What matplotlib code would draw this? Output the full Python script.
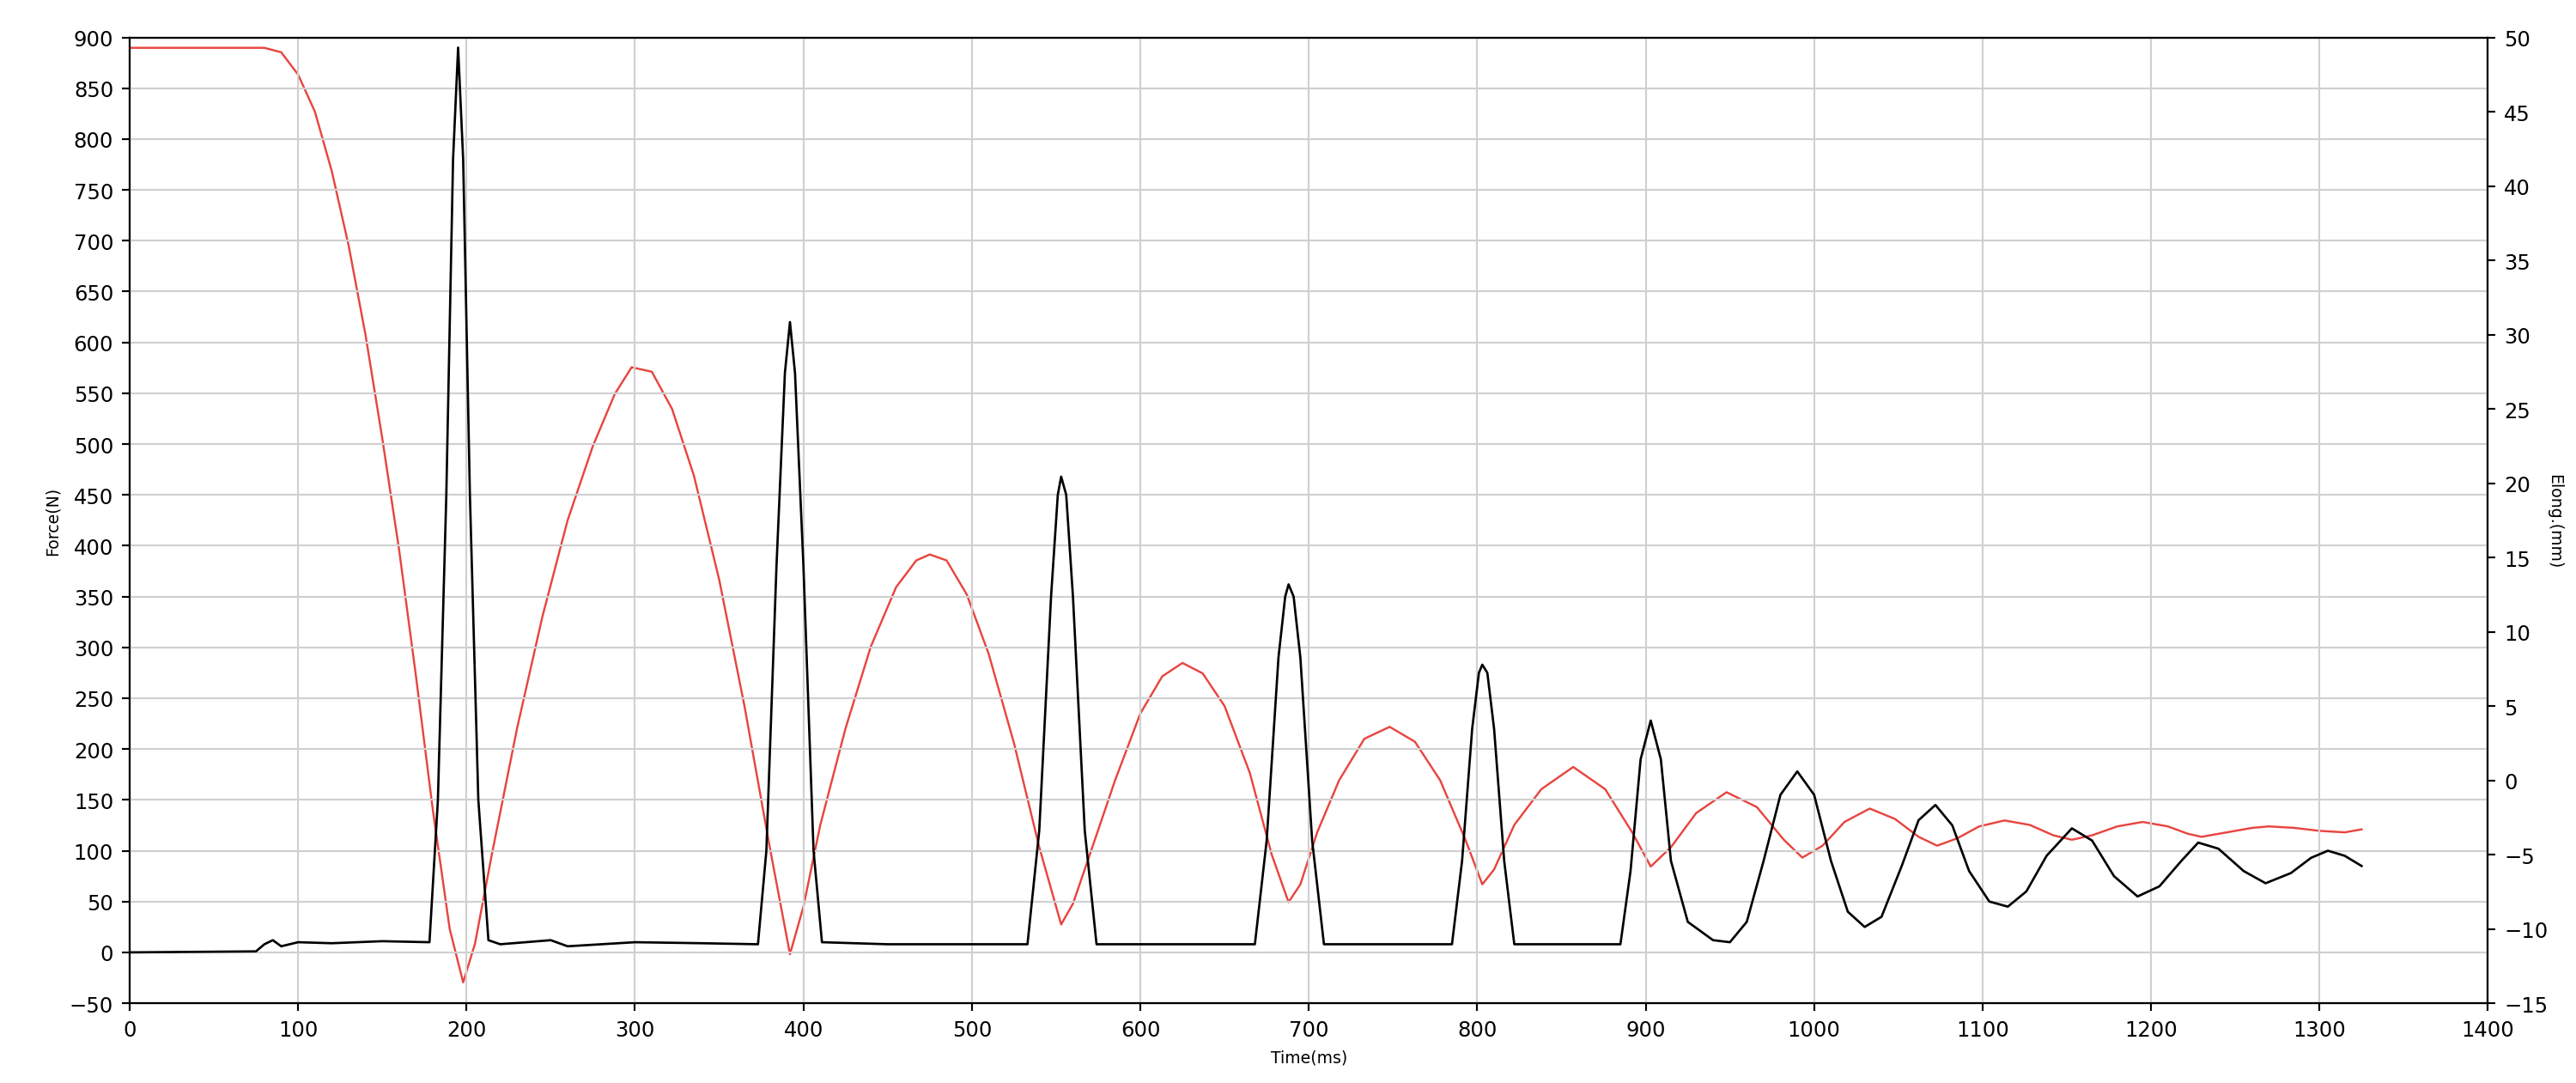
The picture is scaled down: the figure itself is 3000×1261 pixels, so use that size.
import matplotlib
matplotlib.use("Agg")
import matplotlib.pyplot as plt

# force (left axis) - time ms, N
force_t = [0, 75, 80, 85, 90, 100, 120, 150, 178, 183, 188, 192, 195, 198, 202, 207, 213, 220, 250, 260, 300,
           340, 373, 378, 384, 389, 392, 395, 400, 406, 411, 450, 533, 540, 547, 551, 553, 556, 560, 567, 574,
           668, 675, 682, 686, 688, 691, 695, 702, 709, 785, 791, 797, 801, 803, 806, 810, 816, 822, 885, 891,
           897, 903, 909, 915, 925, 940, 950, 960, 970, 980, 990, 1000, 1010, 1020, 1030, 1040, 1052, 1062, 1072,
           1082, 1092, 1104, 1115, 1126, 1138, 1153, 1165, 1178, 1192, 1205, 1218, 1228, 1240, 1255, 1268, 1283,
           1295, 1305, 1315, 1325]
force_v = [0, 1, 8, 12, 6, 10, 9, 11, 10, 150, 450, 780, 890, 780, 450, 150, 12, 8, 12, 6, 10,
           9, 8, 100, 380, 570, 620, 570, 380, 100, 10, 8, 8, 120, 350, 450, 468, 450, 350, 120, 8,
           8, 110, 290, 350, 362, 350, 290, 110, 8, 8, 90, 220, 275, 283, 275, 220, 90, 8, 8, 80,
           190, 228, 190, 90, 30, 12, 10, 30, 90, 155, 178, 155, 90, 40, 25, 35, 85, 130, 145,
           125, 80, 50, 45, 60, 95, 122, 110, 75, 55, 65, 90, 108, 102, 80, 68, 78,
           93, 100, 95, 85]

# elongation (right axis) - time ms, mm
elong_t = [0, 80, 90, 100, 110, 120, 130, 140, 150, 160, 170, 180, 190, 198, 205, 215, 230, 245, 260, 275,
           288, 298, 310, 322, 335, 350, 365, 380, 392, 400, 410, 425, 440, 455, 467, 475, 485, 497, 510, 525,
           540, 553, 560, 570, 585, 600, 613, 625, 637, 650, 665, 678, 688, 695, 705, 718, 733, 748, 763, 778,
           793, 803, 810, 822, 838, 857, 876, 892, 903, 915, 930, 948, 966, 982, 993, 1005, 1018, 1033, 1048,
           1062, 1073, 1085, 1098, 1113, 1128, 1142, 1153, 1165, 1180, 1195, 1210, 1222, 1230, 1245, 1260,
           1270, 1285, 1300, 1315, 1325]
elong_v = [49.3, 49.3, 49, 47.5, 45, 41, 36, 30, 23, 15.5, 7, -2, -10, -13.6, -11, -5, 3.5, 11, 17.5, 22.5,
           26, 27.8, 27.5, 25, 20.5, 13.5, 5, -4.5, -11.7, -8.5, -3, 3.5, 9, 13, 14.8, 15.2, 14.8, 12.5, 8.5, 2.5,
           -4.5, -9.7, -8.3, -5, 0, 4.5, 7, 7.9, 7.2, 5, 0.5, -5, -8.2, -7, -3.5, 0, 2.8, 3.6, 2.6, 0,
           -4, -7, -6, -3, -0.6, 0.9, -0.6, -3.5, -5.8, -4.5, -2.2, -0.8, -1.8, -4, -5.2, -4.4, -2.8, -1.9, -2.6,
           -3.8, -4.4, -3.9, -3.1, -2.7, -3.0, -3.7, -4.0, -3.7, -3.1, -2.8, -3.1, -3.6, -3.8, -3.5, -3.2,
           -3.1, -3.2, -3.4, -3.5, -3.3]

fig = plt.figure(figsize=(15.5, 6.52), dpi=193.55)
ax = fig.add_axes([78/1550, 48/652, (1497-78)/1550, (604-23)/652])
ax2 = ax.twinx()

ax2.plot(elong_t, elong_v, color="#e8453f", lw=0.9)
ax.plot(force_t, force_v, color="black", lw=1.0, zorder=3)
ax.set_zorder(ax2.get_zorder() + 1)
ax.patch.set_visible(False)

ax.set_xlim(0, 1400)
ax.set_ylim(-50, 900)
ax2.set_ylim(-15, 50)
ax.set_xticks(range(0, 1401, 100))
ax.set_yticks(range(-50, 901, 50))
ax2.set_yticks(range(-15, 51, 5))
ax.grid(True, color="#d0d0d0", lw=0.8)
ax.tick_params(labelsize=9)
ax2.tick_params(labelsize=9)
ax.set_xlabel("Time(ms)", fontsize=7)
ax.set_ylabel("Force(N)", fontsize=7)
ax2.set_ylabel("Elong.(mm)", fontsize=7, rotation=270, labelpad=6)

fig.savefig("out.png")
